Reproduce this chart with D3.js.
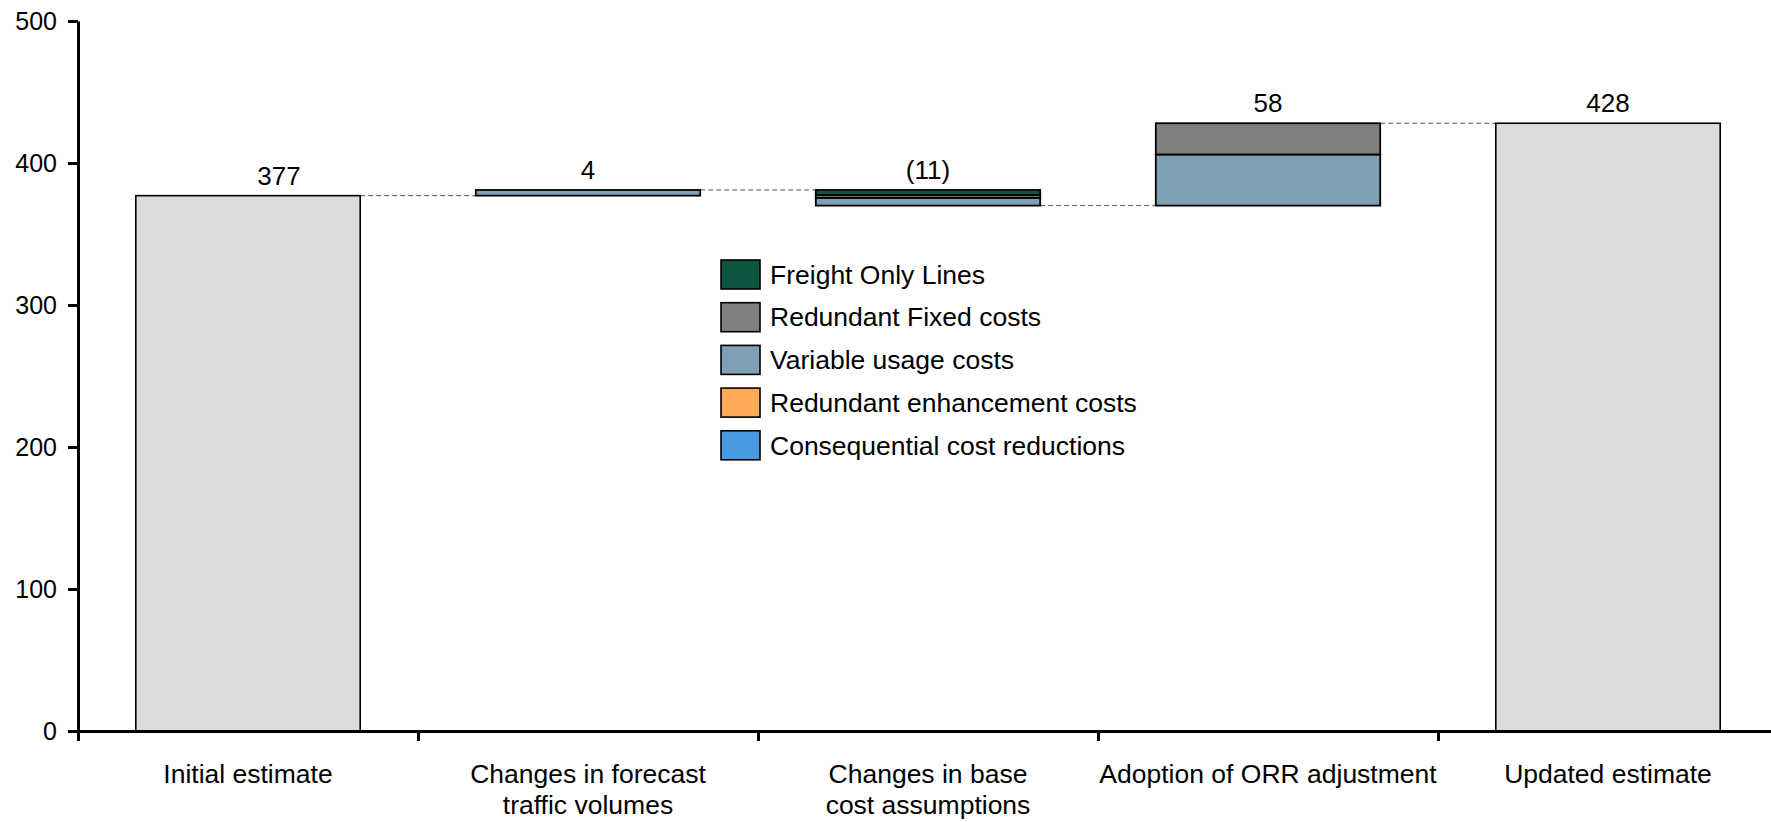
<!DOCTYPE html>
<html>
<head>
<meta charset="utf-8">
<script src="https://cdn.jsdelivr.net/npm/d3@7"></script>
<style>
  html, body { margin: 0; padding: 0; background: #ffffff; }
  svg { display: block; }
  text { font-family: "Liberation Sans", Arial, Helvetica, sans-serif; fill: #000; }
</style>
</head>
<body>
<svg id="chart" width="1771" height="822"></svg>
<script>
// Waterfall: start and end totals with stacked cost-driver changes in between
const categoryLines = [
  ["Initial estimate"],
  ["Changes in forecast", "traffic volumes"],
  ["Changes in base", "cost assumptions"],
  ["Adoption of ORR adjustment"],
  ["Updated estimate"]
];
const initialTotal = 377;
const updatedTotal = 428;

// Change steps (one entry per middle column)
const freightOnlyLines   = [0, -3.5, 0];
const redundantFixed     = [0, -2, 22];
const variableUsage      = [4, -5.5, 36];
const redundantEnhance   = [0, 0, 0];
const consequentialCuts  = [0, 0, 0];

const seriesNames = [
  "Freight Only Lines",
  "Redundant Fixed costs",
  "Variable usage costs",
  "Redundant enhancement costs",
  "Consequential cost reductions"
];
const seriesColors = ["#0b5541", "#808080", "#7fa1b6", "#fdab57", "#4a9ae1"];
const yTicks = [0, 100, 200, 300, 400, 500];

// stacking order, bottom to top
const stackOrder = [
  { name: seriesNames[4], values: consequentialCuts, color: seriesColors[4] },
  { name: seriesNames[3], values: redundantEnhance,  color: seriesColors[3] },
  { name: seriesNames[2], values: variableUsage,     color: seriesColors[2] },
  { name: seriesNames[1], values: redundantFixed,    color: seriesColors[1] },
  { name: seriesNames[0], values: freightOnlyLines,  color: seriesColors[0] }
];

const svg = d3.select("#chart");
const plotLeft = 78, plotRight = 1778, plotTop = 21, plotBottom = 731;

const x = d3.scaleBand()
  .domain(d3.range(categoryLines.length))
  .range([plotLeft, plotRight])
  .paddingInner(0.34)
  .paddingOuter(0.17);
const xEdges = d3.scaleLinear().domain([0, categoryLines.length]).range([plotLeft, plotRight]);
const y = d3.scaleLinear().domain([0, 500]).range([plotBottom, plotTop]);

// build columns
const columns = [];
columns.push({ kind: "total", lo: 0, hi: initialTotal, start: 0, end: initialTotal, label: String(initialTotal) });
let running = initialTotal;
for (let i = 0; i < freightOnlyLines.length; i++) {
  const net = d3.sum(stackOrder, s => s.values[i]);
  const start = running, end = running + net;
  const lo = Math.min(start, end), hi = Math.max(start, end);
  let acc = lo;
  const segs = stackOrder.filter(s => s.values[i] !== 0).map(s => {
    const h = Math.abs(s.values[i]);
    const seg = { y0: acc, y1: acc + h, color: s.color };
    acc += h;
    return seg;
  });
  const r = Math.round(net);
  columns.push({ kind: "step", lo, hi, start, end, segs, label: r < 0 ? "(" + Math.abs(r) + ")" : String(r) });
  running = end;
}
columns.push({ kind: "total", lo: 0, hi: updatedTotal, start: 0, end: updatedTotal, label: String(updatedTotal) });

// connectors
const conn = svg.append("g");
for (let i = 0; i < columns.length - 1; i++) {
  const level = columns[i].end;
  conn.append("line")
    .attr("x1", x(i) + x.bandwidth())
    .attr("x2", x(i + 1))
    .attr("y1", y(level)).attr("y2", y(level))
    .attr("stroke", "#555").attr("stroke-width", 1)
    .attr("stroke-dasharray", "5,3");
}

// bars
const bars = svg.append("g");
columns.forEach((c, i) => {
  if (c.kind === "total") {
    bars.append("rect")
      .attr("x", x(i)).attr("width", x.bandwidth())
      .attr("y", y(c.hi)).attr("height", y(c.lo) - y(c.hi))
      .attr("fill", "#dcdcdc").attr("stroke", "#000").attr("stroke-width", 1.6);
  } else {
    c.segs.forEach(s => {
      bars.append("rect")
        .attr("x", x(i)).attr("width", x.bandwidth())
        .attr("y", y(s.y1)).attr("height", y(s.y0) - y(s.y1))
        .attr("fill", s.color).attr("stroke", "#000").attr("stroke-width", 1.8);
    });
  }
});

// value labels
const firstLabelNudge = 31;
columns.forEach((c, i) => {
  svg.append("text")
    .attr("x", x(i) + x.bandwidth() / 2 + (i === 0 ? firstLabelNudge : 0))
    .attr("y", y(c.hi) - 11)
    .attr("text-anchor", "middle")
    .attr("font-size", 26)
    .text(c.label);
});

// y axis
const yAxis = svg.append("g")
  .attr("transform", `translate(${plotLeft},0)`)
  .call(d3.axisLeft(y).tickValues(yTicks).tickSize(10).tickSizeOuter(0).tickPadding(11));
yAxis.select(".domain").attr("stroke", "#000").attr("stroke-width", 3);
yAxis.selectAll(".tick line").attr("stroke", "#000").attr("stroke-width", 3);
yAxis.selectAll(".tick text").attr("font-size", 25)
  .attr("font-family", '"Liberation Sans", Arial, sans-serif').attr("fill", "#000");

// x axis with ticks at category boundaries
const xAxis = svg.append("g")
  .attr("transform", `translate(0,${plotBottom})`)
  .call(d3.axisBottom(xEdges).tickValues(d3.range(categoryLines.length + 1)).tickSize(10).tickSizeOuter(0).tickFormat(""));
xAxis.select(".domain").attr("stroke", "#000").attr("stroke-width", 3);
xAxis.selectAll(".tick line").attr("stroke", "#000").attr("stroke-width", 3);

// category labels
categoryLines.forEach((lines, i) => {
  const t = svg.append("text")
    .attr("text-anchor", "middle")
    .attr("font-size", 26.5)
    .attr("x", x(i) + x.bandwidth() / 2)
    .attr("y", 783);
  lines.forEach((ln, k) => {
    t.append("tspan")
      .attr("x", x(i) + x.bandwidth() / 2)
      .attr("dy", k === 0 ? 0 : 30.5)
      .text(ln);
  });
});

// legend
const legend = svg.append("g").attr("transform", "translate(721,260)");
seriesNames.forEach((name, k) => {
  const g = legend.append("g").attr("transform", `translate(0,${k * 42.7})`);
  g.append("rect").attr("width", 39).attr("height", 29)
    .attr("fill", seriesColors[k]).attr("stroke", "#000").attr("stroke-width", 1.6);
  g.append("text").attr("x", 49).attr("y", 14.5).attr("dy", "0.35em")
    .attr("font-size", 26.5).text(name);
});
</script>
</body>
</html>
